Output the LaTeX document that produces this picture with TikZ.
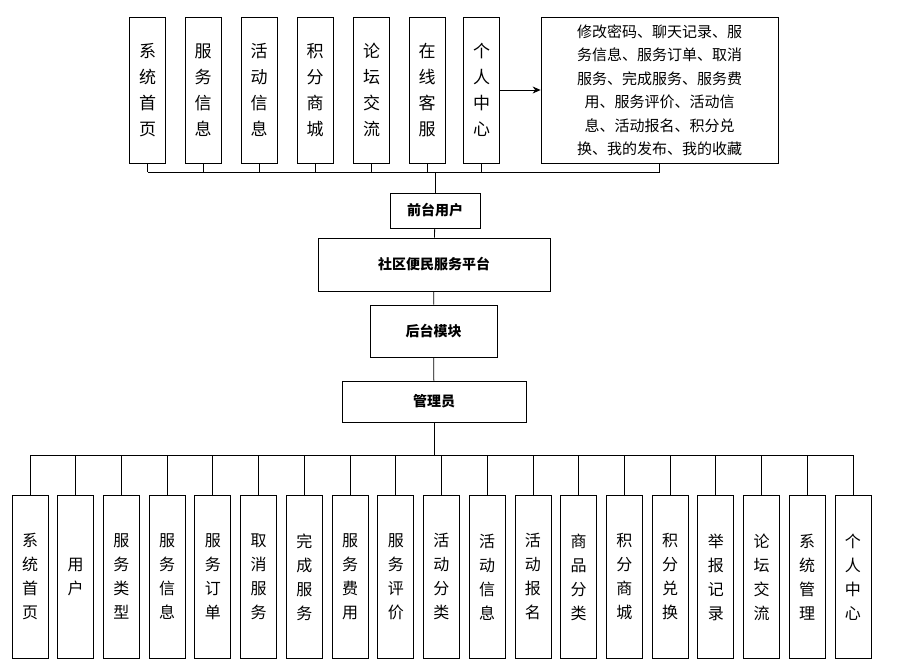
\documentclass[tikz,border=0pt]{standalone}
\usepackage{fontspec}
\usetikzlibrary{arrows.meta}
\setmainfont{Noto Sans CJK SC}
\begin{document}
\begin{tikzpicture}[x=1pt,y=-1pt,
  bx/.style={draw,thick,inner sep=0pt,align=center,font=\fontsize{17}{26}\selectfont},
  mid/.style={draw,thick,inner sep=0pt,align=center,font=\fontsize{14}{16}\selectfont\bfseries},
  ln/.style={thick}]
\useasboundingbox (0,0) rectangle (906,662);
% top boxes
\foreach \n/\x/\t in {t1/147.5/系\\统\\首\\页, t2/203/服\\务\\信\\息, t3/259/活\\动\\信\\息, t4/315/积\\分\\商\\城, t5/371.5/论\\坛\\交\\流, t6/427/在\\线\\客\\服, t7/481.5/个\\人\\中\\心}
  \node[bx,minimum width=36,minimum height=146] (\n) at (\x,90) {\t};
\node[bx,minimum width=237,minimum height=146,font=\fontsize{15}{23.5}\selectfont] (big) at (659.5,90) {修改密码、聊天记录、服\\务信息、服务订单、取消\\服务、完成服务、服务费\\用、服务评价、活动信\\息、活动报名、积分兑\\换、我的发布、我的收藏};
\draw[ln,-{Stealth[length=8pt,width=7pt]}] (t7.east) -- (big.west);
\coordinate (bl) at (147.5,172); \coordinate (br) at (659.5,172);
\draw[ln] (bl) -- (br);
\foreach \n in {t1,t2,t3,t4,t5,t6,t7,big} \draw[ln] (\n.south) -- (\n.south |- bl);
\node[mid,minimum width=90,minimum height=35] (qt) at (435,210.5) {前台用户};
\node[mid,minimum width=232,minimum height=53] (pt) at (434,264.5) {社区便民服务平台};
\node[mid,minimum width=127,minimum height=52] (ht) at (433.5,331) {后台模块};
\node[mid,minimum width=184,minimum height=41] (gl) at (434,401.5) {管理员};
\draw[ln] (qt.north) -- (qt.north |- bl);
\draw[ln] (qt) -- (pt);
\draw[ln] (pt) -- (ht);
\draw[ln] (ht) -- (gl);
\coordinate (bb) at (434,455);
\draw[ln] (gl.south) -- (bb);
\draw[ln] (30,455) -- (853,455);
\foreach \t [count=\i from 0] in {系\\统\\首\\页, 用\\户, 服\\务\\类\\型, 服\\务\\信\\息, 服\\务\\订\\单, 取\\消\\服\\务, 完\\成\\服\\务, 服\\务\\费\\用, 服\\务\\评\\价, 活\\动\\分\\类, 活\\动\\信\\息, 活\\动\\报\\名, 商\\品\\分\\类, 积\\分\\商\\城, 积\\分\\兑\\换, 举\\报\\记\\录, 论\\坛\\交\\流, 系\\统\\管\\理, 个\\人\\中\\心} {
  \pgfmathsetmacro{\xx}{30+\i*45.72}
  \node[bx,anchor=north,minimum width=36,minimum height=163,font=\fontsize{16}{24}\selectfont] (b\i) at (\xx,495) {\t};
  \draw[ln] (b\i.north) -- (b\i.north |- bb);
}
\end{tikzpicture}
\end{document}
